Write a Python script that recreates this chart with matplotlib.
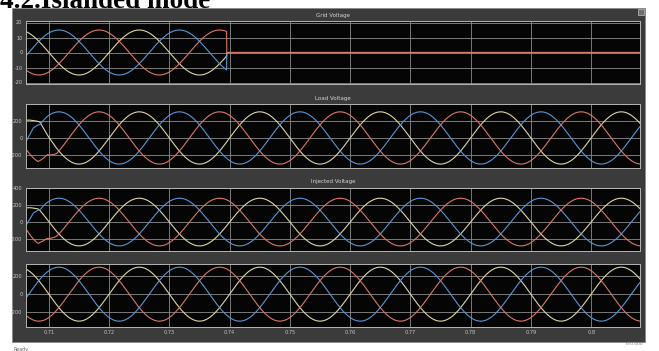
import numpy as np
import matplotlib.pyplot as plt
from matplotlib.patches import Rectangle

# --- data ---
t_start, t_end = 0.7062, 0.8081
freq = 50.0                      # Hz
t_zero = 0.70666                 # upward zero crossing of phase "a" (blue)
phase_names = ['c', 'a', 'b']    # drawing order: yellow, blue, red
phase_colors = {'a': '#5b95d6', 'b': '#d9786a', 'c': '#ddd6a2'}
phase_shift = {'a': 0.0, 'b': -120.0, 'c': -240.0}   # degrees

grid_amp = 15.0
grid_cut = 0.7395                # grid disconnected -> islanded
load_amp = 300.0
inj_amp = 280.0
out_amp = 300.0

# start-up deviation from the steady sine (time, deviation)
load_dev_t = [0.7062, 0.7074, 0.7082, 0.7085, 0.7097, 0.7113]
load_dev = {
    'a': [0, 46, 10, -11, 0, 0],
    'b': [106, 60, 29, 40, 79, 0],
    'c': [-76, -20, 30, 47, 10, 0],
}
inj_dev_t = [0.7062, 0.7074, 0.7082, 0.7085, 0.7096, 0.7113]
inj_dev = {
    'a': [0, 40, 10, -10, 0, 0],
    'b': [138, 70, 29, 40, 64, 0],
    'c': [-95, -40, 5, 11, 5, 0],
}

panel_titles = ['Grid Voltage', 'Load Voltage', 'Injected Voltage', '']
panel_ylims = [(-21, 21), (-345, 390), (-340, 400), (-365, 335)]
panel_yticks = [[-20, -10, 0, 10, 20], [-200, 0, 200], [-200, 0, 200, 400], [-200, 0, 200]]
xticks = [0.71, 0.72, 0.73, 0.74, 0.75, 0.76, 0.77, 0.78, 0.79, 0.80]
xtick_labels = ['0.71', '0.72', '0.73', '0.74', '0.75', '0.76', '0.77', '0.78', '0.79', '0.8']

# --- figure ---
W, H = 659, 351
fig = plt.figure(figsize=(W / 100, H / 100), dpi=100)
fig.patch.set_facecolor('white')

def fx(px):
    return px / W

def fy(py):
    return 1 - py / H

# dark scope panel (behind the axes)
fig.patches.append(Rectangle((fx(12), fy(342)), fx(645) - fx(12), fy(8) - fy(342),
                             transform=fig.transFigure, facecolor='#3b3b3b',
                             edgecolor='#8a8a8a', linewidth=0.6, zorder=-5))
fig.patches.append(Rectangle((fx(638), fy(15)), fx(6), fy(9) - fy(15),
                             transform=fig.transFigure, facecolor='#707070',
                             edgecolor='#c0c0c0', linewidth=0.5, zorder=-4))

fig.text(0.0, fy(7.5), '4.2.Islanded mode', family='Liberation Serif',
         fontsize=19.5, fontweight='bold', va='baseline', ha='left', color='black')
fig.text(fx(13), fy(349), 'Ready', fontsize=3.5, color='#666666', va='center')
fig.text(fx(643), fy(344), 'T=0.000', fontsize=3.2, color='#777777', va='center', ha='right')

ax_rows = [(21, 84), (104, 168), (188, 251), (264, 327)]
t = np.linspace(t_start, t_end, 6000)
w = 2 * np.pi * freq

def steady(amp, p):
    return amp * np.sin(w * (t - t_zero) + np.deg2rad(phase_shift[p]))

for i, (top, bot) in enumerate(ax_rows):
    ax = fig.add_axes([fx(26), fy(bot), fx(640) - fx(26), fy(top) - fy(bot)])
    ax.set_facecolor('#050505')
    for p in phase_names:
        if i == 0:
            v = np.where(t < grid_cut, steady(grid_amp, p), 0.0)
        elif i == 1:
            v = steady(load_amp, p) + np.interp(t, load_dev_t, load_dev[p], right=0)
        elif i == 2:
            v = steady(inj_amp, p) + np.interp(t, inj_dev_t, inj_dev[p], right=0)
        else:
            v = steady(out_amp, p)
        ax.plot(t, v, color=phase_colors[p], linewidth=0.8)
    ax.set_xlim(t_start, t_end)
    ax.set_ylim(*panel_ylims[i])
    ax.set_yticks(panel_yticks[i])
    ax.set_yticklabels([str(v) for v in panel_yticks[i]])
    ax.set_xticks(xticks)
    if i == 3:
        ax.set_xticklabels(xtick_labels)
    else:
        ax.set_xticklabels([])
    ax.grid(True, color='#8c8c8c', linewidth=0.6)
    ax.tick_params(length=0, labelsize=3.6, labelcolor='#c8c8c8', pad=2.5)
    for s in ax.spines.values():
        s.set_color('#b5b5b5')
        s.set_linewidth(0.7)
    if panel_titles[i]:
        fig.text(fx(333), fy(top - 6), panel_titles[i], fontsize=4, color='#d5d5d5',
                 ha='center', va='center')

fig.savefig('out.png', dpi=100, facecolor='white')
